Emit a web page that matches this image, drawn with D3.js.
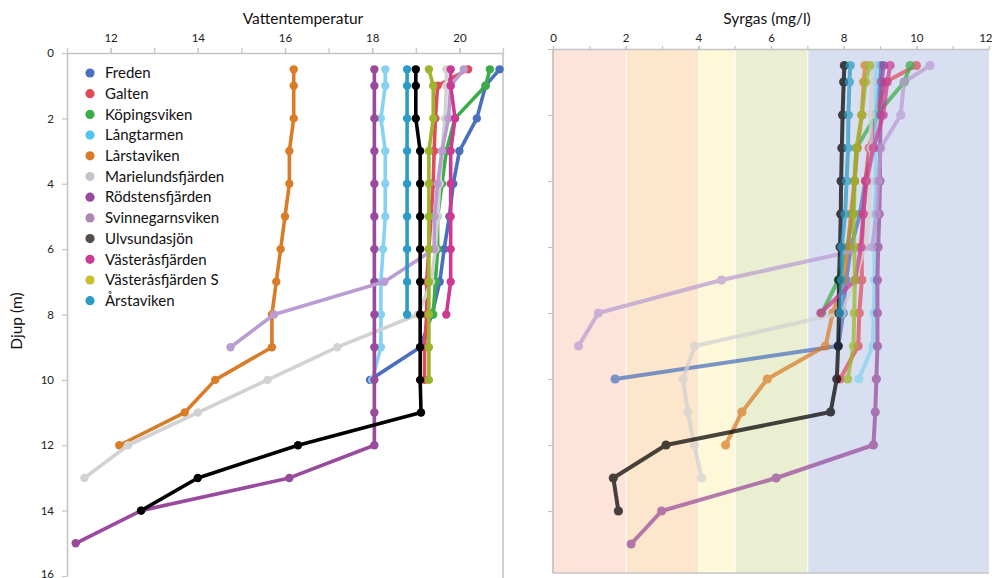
<!DOCTYPE html>
<html>
<head>
<meta charset="utf-8">
<script src="https://cdn.jsdelivr.net/npm/d3@7"></script>
<style>
  body { margin: 0; background: #fff; }
  svg { display: block; font-family: Lato, "Noto Sans", sans-serif; }
</style>
</head>
<body>
<script>
const width = 992;
const height = 578;

// depths (m) shared by every station, each series uses the first N of them
const depths = [0.5, 1, 2, 3, 4, 5, 6, 7, 8, 9, 10, 11, 12, 13, 14, 15];

const stations = ["Freden", "Galten", "Köpingsviken", "Långtarmen", "Lårstaviken",
  "Marielundsfjärden", "Rödstensfjärden", "Svinnegarnsviken", "Ulvsundasjön",
  "Västeråsfjärden", "Västeråsfjärden S", "Årstaviken"];

const legendColors = ["#4a70bd", "#e04b5c", "#3aad48", "#52c4ee", "#d97c28", "#c4c4cc",
  "#984a9c", "#ad86b4", "#544d49", "#cc3a93", "#c9bf2c", "#2b9cc6"];

const lineColors = ["#4a70bd", "#e04b5c", "#3aad48", "#86d2f0", "#d97c28", "#d2d2d2",
  "#984a9c", "#b99cd2", "#000000", "#cc3a93", "#9cb52a", "#2b9cc6"];

// water temperature (°C) per station, top to bottom
const tempFreden = [20.92, 20.6, 20.4, 20.0, 19.86, 19.77, 19.65, 19.55, 19.37, 19.1, 17.95];
const tempGalten = [20.2, 19.5, 19.45, 19.42, 19.4, 19.35, 19.3, 19.25, 19.25, 19.2, 19.2];
const tempKoping = [20.7, 20.6, 19.9, 19.7, 19.6, 19.5, 19.5, 19.45, 19.4];
const tempLangtarmen = [18.3, 18.3, 18.2, 18.3, 18.3, 18.3, 18.25, 18.2, 18.2, 18.2, 18.0];
const tempLarstaviken = [16.2, 16.2, 16.2, 16.1, 16.1, 16.0, 15.9, 15.8, 15.7, 15.7, 14.4, 13.7, 12.2];
const tempMarielund = [19.7, 19.7, 19.67, 19.6, 19.55, 19.5, 19.45, 19.35, 19.05, 17.2, 15.6, 14.0, 12.4, 11.4];
const tempRodstens = [18.05, 18.05, 18.05, 18.05, 18.05, 18.05, 18.05, 18.05, 18.05, 18.05, 18.05, 18.05, 18.05, 16.1, 12.7, 11.2];
const tempSvinne = [20.1, 19.8, 19.75, 19.6, 19.5, 19.43, 19.42, 18.28, 15.75, 14.75];
const tempUlvsunda = [19.0, 19.0, 19.0, 19.1, 19.1, 19.1, 19.1, 19.1, 19.1, 19.1, 19.1, 19.12, 16.3, 14.0, 12.7];
const tempVasteras = [19.8, 19.8, 19.9, 19.8, 19.8, 19.8, 19.8, 19.8, 19.7];
const tempVasterasS = [19.3, 19.4, 19.4, 19.3, 19.3, 19.3, 19.3, 19.3, 19.3, 19.3, 19.3];
const tempArstaviken = [18.8, 18.8, 18.8, 18.8, 18.8, 18.8, 18.8, 18.8, 18.8];

// dissolved oxygen (mg/l) per station, top to bottom
const oxyFreden = [9.03, 9.0, 8.9, 8.75, 8.6, 8.45, 8.2, 8.07, 7.99, 7.85, 1.71];
const oxyGalten = [10.0, 9.15, 8.9, 8.7, 8.6, 8.55, 8.5, 8.5, 8.43, 8.4, 7.9];
const oxyKoping = [9.83, 9.67, 8.9, 8.35, 8.3, 8.25, 8.1, 7.85, 7.4];
const oxyLangtarmen = [8.88, 8.88, 8.88, 8.88, 8.88, 8.86, 8.85, 8.85, 8.83, 8.8, 8.42];
const oxyLarstaviken = [8.59, 8.55, 8.5, 8.38, 8.3, 8.2, 8.12, 8.0, 7.7, 7.5, 5.9, 5.2, 4.75];
const oxyMarielund = [8.77, 8.77, 8.75, 8.75, 8.72, 8.7, 8.6, 8.3, 7.95, 3.9, 3.58, 3.71, 3.89, 4.09];
const oxyRodstens = [9.1, 9.05, 9.02, 9.0, 9.0, 8.98, 8.95, 8.93, 8.93, 8.93, 8.9, 8.87, 8.82, 6.14, 2.99, 2.15];
const oxySvinne = [10.38, 9.66, 9.57, 9.02, 8.95, 8.91, 8.78, 4.64, 1.25, 0.7];
const oxyUlvsunda = [8.02, 8.0, 7.97, 7.95, 7.93, 7.92, 7.9, 7.87, 7.87, 7.85, 7.81, 7.64, 3.11, 1.66, 1.8];
const oxyVasteras = [9.28, 9.2, 9.09, 8.82, 8.63, 8.54, 8.47, 8.32, 7.37];
const oxyVasterasS = [8.72, 8.6, 8.5, 8.35, 8.3, 8.28, 8.29, 8.31, 8.29, 8.27, 8.11];
const oxyArstaviken = [8.18, 8.16, 8.13, 8.12, 8.08, 8.04, 7.95, 7.94, 7.9];

const tempSeries = [tempFreden, tempGalten, tempKoping, tempLangtarmen, tempLarstaviken, tempMarielund,
  tempRodstens, tempSvinne, tempUlvsunda, tempVasteras, tempVasterasS, tempArstaviken];
const oxySeries = [oxyFreden, oxyGalten, oxyKoping, oxyLangtarmen, oxyLarstaviken, oxyMarielund,
  oxyRodstens, oxySvinne, oxyUlvsunda, oxyVasteras, oxyVasterasS, oxyArstaviken];

// oxygen classes shown as background bands
const bandEdges = [0, 2, 4, 5, 7, 12];
const bandColors = ["#fde4da", "#fde7cc", "#fdf8d8", "#e9efd0", "#d8dff0"];

const tempTicks = [12, 14, 16, 18, 20];
const oxyTicks = [0, 2, 4, 6, 8, 10, 12];
const depthTicks = [0, 2, 4, 6, 8, 10, 12, 14, 16];

let svg = d3.select("body").append("svg")
  .attr("width", width)
  .attr("height", height);

// scales
const xT = d3.scaleLinear().domain([11, 21]).range([67, 503]);
const yL = d3.scaleLinear().domain([0, 16]).range([53, 576]);
const xO = d3.scaleLinear().domain([0, 12]).range([553, 989]);
const yR = d3.scaleLinear().domain([0, 16]).range([49, 577]);
const bottomR = 573;

function styleAxis(g) {
  g.select(".domain").attr("stroke", "#c4c4c4").attr("stroke-width", 1.6);
  g.selectAll(".tick line").attr("stroke", "#c4c4c4").attr("stroke-width", 1.2);
  g.selectAll(".tick text").attr("fill", "#222").attr("font-size", 11.5)
    .attr("font-family", "Lato, sans-serif");
}

// ---------- left panel: temperature ----------
svg.append("line")
  .attr("x1", xT(21)).attr("x2", xT(21))
  .attr("y1", yL(0)).attr("y2", height)
  .attr("stroke", "#c4c4c4").attr("stroke-width", 1.6);

svg.append("g")
  .attr("transform", `translate(0,${yL(0)})`)
  .call(d3.axisTop(xT).tickValues(d3.range(11, 22)).tickFormat("").tickSize(5).tickSizeOuter(0))
  .call(styleAxis);

svg.append("g")
  .attr("transform", `translate(0,${yL(0)})`)
  .call(d3.axisTop(xT).tickValues(tempTicks).tickSize(5).tickPadding(6).tickSizeOuter(0))
  .call(styleAxis)
  .call(g => g.select(".domain").remove());

svg.append("g")
  .attr("transform", `translate(${xT(11)},0)`)
  .call(d3.axisLeft(yL).tickValues(depthTicks).tickSize(5).tickPadding(8).tickSizeOuter(0))
  .call(styleAxis)
  .call(g => g.selectAll(".tick text").filter(d => d === 16).attr("dy", "0.1em"));

svg.append("text")
  .attr("x", 303).attr("y", 24)
  .attr("text-anchor", "middle")
  .attr("font-size", 15.5)
  .attr("fill", "#111")
  .text("Vattentemperatur");

svg.append("text")
  .attr("transform", `translate(22,${yL(8.2)}) rotate(-90)`)
  .attr("text-anchor", "middle")
  .attr("font-size", 15.5)
  .attr("fill", "#111")
  .text("Djup (m)");

const tempLine = d3.line().x(d => xT(d.v)).y(d => yL(d.d));

stations.forEach((name, i) => {
  const pts = tempSeries[i].map((v, j) => ({ v: v, d: depths[j] }));
  const g = svg.append("g");
  g.append("path")
    .attr("d", tempLine(pts))
    .attr("fill", "none")
    .attr("stroke", lineColors[i])
    .attr("stroke-width", 3.6)
    .attr("stroke-linejoin", "round");
  g.selectAll("circle")
    .data(pts)
    .join("circle")
    .attr("cx", d => xT(d.v))
    .attr("cy", d => yL(d.d))
    .attr("r", 4.2)
    .attr("fill", lineColors[i]);
});

// legend
const legend = svg.append("g");
stations.forEach((name, i) => {
  legend.append("circle")
    .attr("cx", 90).attr("cy", 73 + i * 20.7)
    .attr("r", 4.6)
    .attr("fill", legendColors[i]);
  legend.append("text")
    .attr("x", 105).attr("y", 73 + i * 20.7)
    .attr("dy", "0.35em")
    .attr("font-size", 15)
    .attr("fill", "#111")
    .text(name);
});

// ---------- right panel: oxygen ----------
svg.append("clipPath").attr("id", "clipR")
  .append("rect")
  .attr("x", xO(0)).attr("y", yR(0))
  .attr("width", xO(12) - xO(0)).attr("height", bottomR - yR(0));

svg.append("g")
  .selectAll("rect")
  .data(bandColors)
  .join("rect")
  .attr("x", (d, i) => xO(bandEdges[i]) + (i > 0 ? 1 : 0))
  .attr("y", yR(0))
  .attr("width", (d, i) => xO(bandEdges[i + 1]) - xO(bandEdges[i]) - (i > 0 ? 1 : 0))
  .attr("height", bottomR - yR(0))
  .attr("fill", d => d);

svg.append("line")
  .attr("x1", xO(0)).attr("x2", xO(12))
  .attr("y1", bottomR).attr("y2", bottomR)
  .attr("stroke", "#c4c4c4").attr("stroke-width", 1.6);

svg.append("g")
  .attr("transform", `translate(0,${yR(0)})`)
  .call(d3.axisTop(xO).tickValues(d3.range(0, 13)).tickFormat("").tickSize(3).tickSizeOuter(0))
  .call(styleAxis);

svg.append("g")
  .attr("transform", `translate(0,${yR(0)})`)
  .call(d3.axisTop(xO).tickValues(oxyTicks).tickSize(3).tickPadding(4).tickSizeOuter(0))
  .call(styleAxis)
  .call(g => g.select(".domain").remove())
  .call(g => g.selectAll(".tick text").filter(d => d === 12).attr("text-anchor", "end").attr("dx", 3));

svg.append("g")
  .attr("transform", `translate(${xO(0)},0)`)
  .call(d3.axisLeft(yR).tickValues(depthTicks.filter(d => d < 16)).tickFormat("").tickSize(5).tickSizeOuter(0))
  .call(styleAxis)
  .call(g => g.select(".domain").attr("d", `M0,${yR(0)}V${bottomR}`).attr("stroke", "#c9bcb0"));

svg.append("text")
  .attr("x", 767).attr("y", 24)
  .attr("text-anchor", "middle")
  .attr("font-size", 15.5)
  .attr("fill", "#111")
  .text("Syrgas (mg/l)");

const oxyLine = d3.line().x(d => xO(d.v)).y(d => yR(d.d));
const plotR = svg.append("g").attr("clip-path", "url(#clipR)");

stations.forEach((name, i) => {
  const pts = oxySeries[i].map((v, j) => ({ v: v, d: depths[j] }));
  const g = plotR.append("g").attr("opacity", 0.72);
  g.append("path")
    .attr("d", oxyLine(pts))
    .attr("fill", "none")
    .attr("stroke", lineColors[i])
    .attr("stroke-width", 4)
    .attr("stroke-linejoin", "round");
  g.selectAll("circle")
    .data(pts)
    .join("circle")
    .attr("cx", d => xO(d.v))
    .attr("cy", d => yR(d.d))
    .attr("r", 4.6)
    .attr("fill", lineColors[i]);
});
</script>
</body>
</html>
